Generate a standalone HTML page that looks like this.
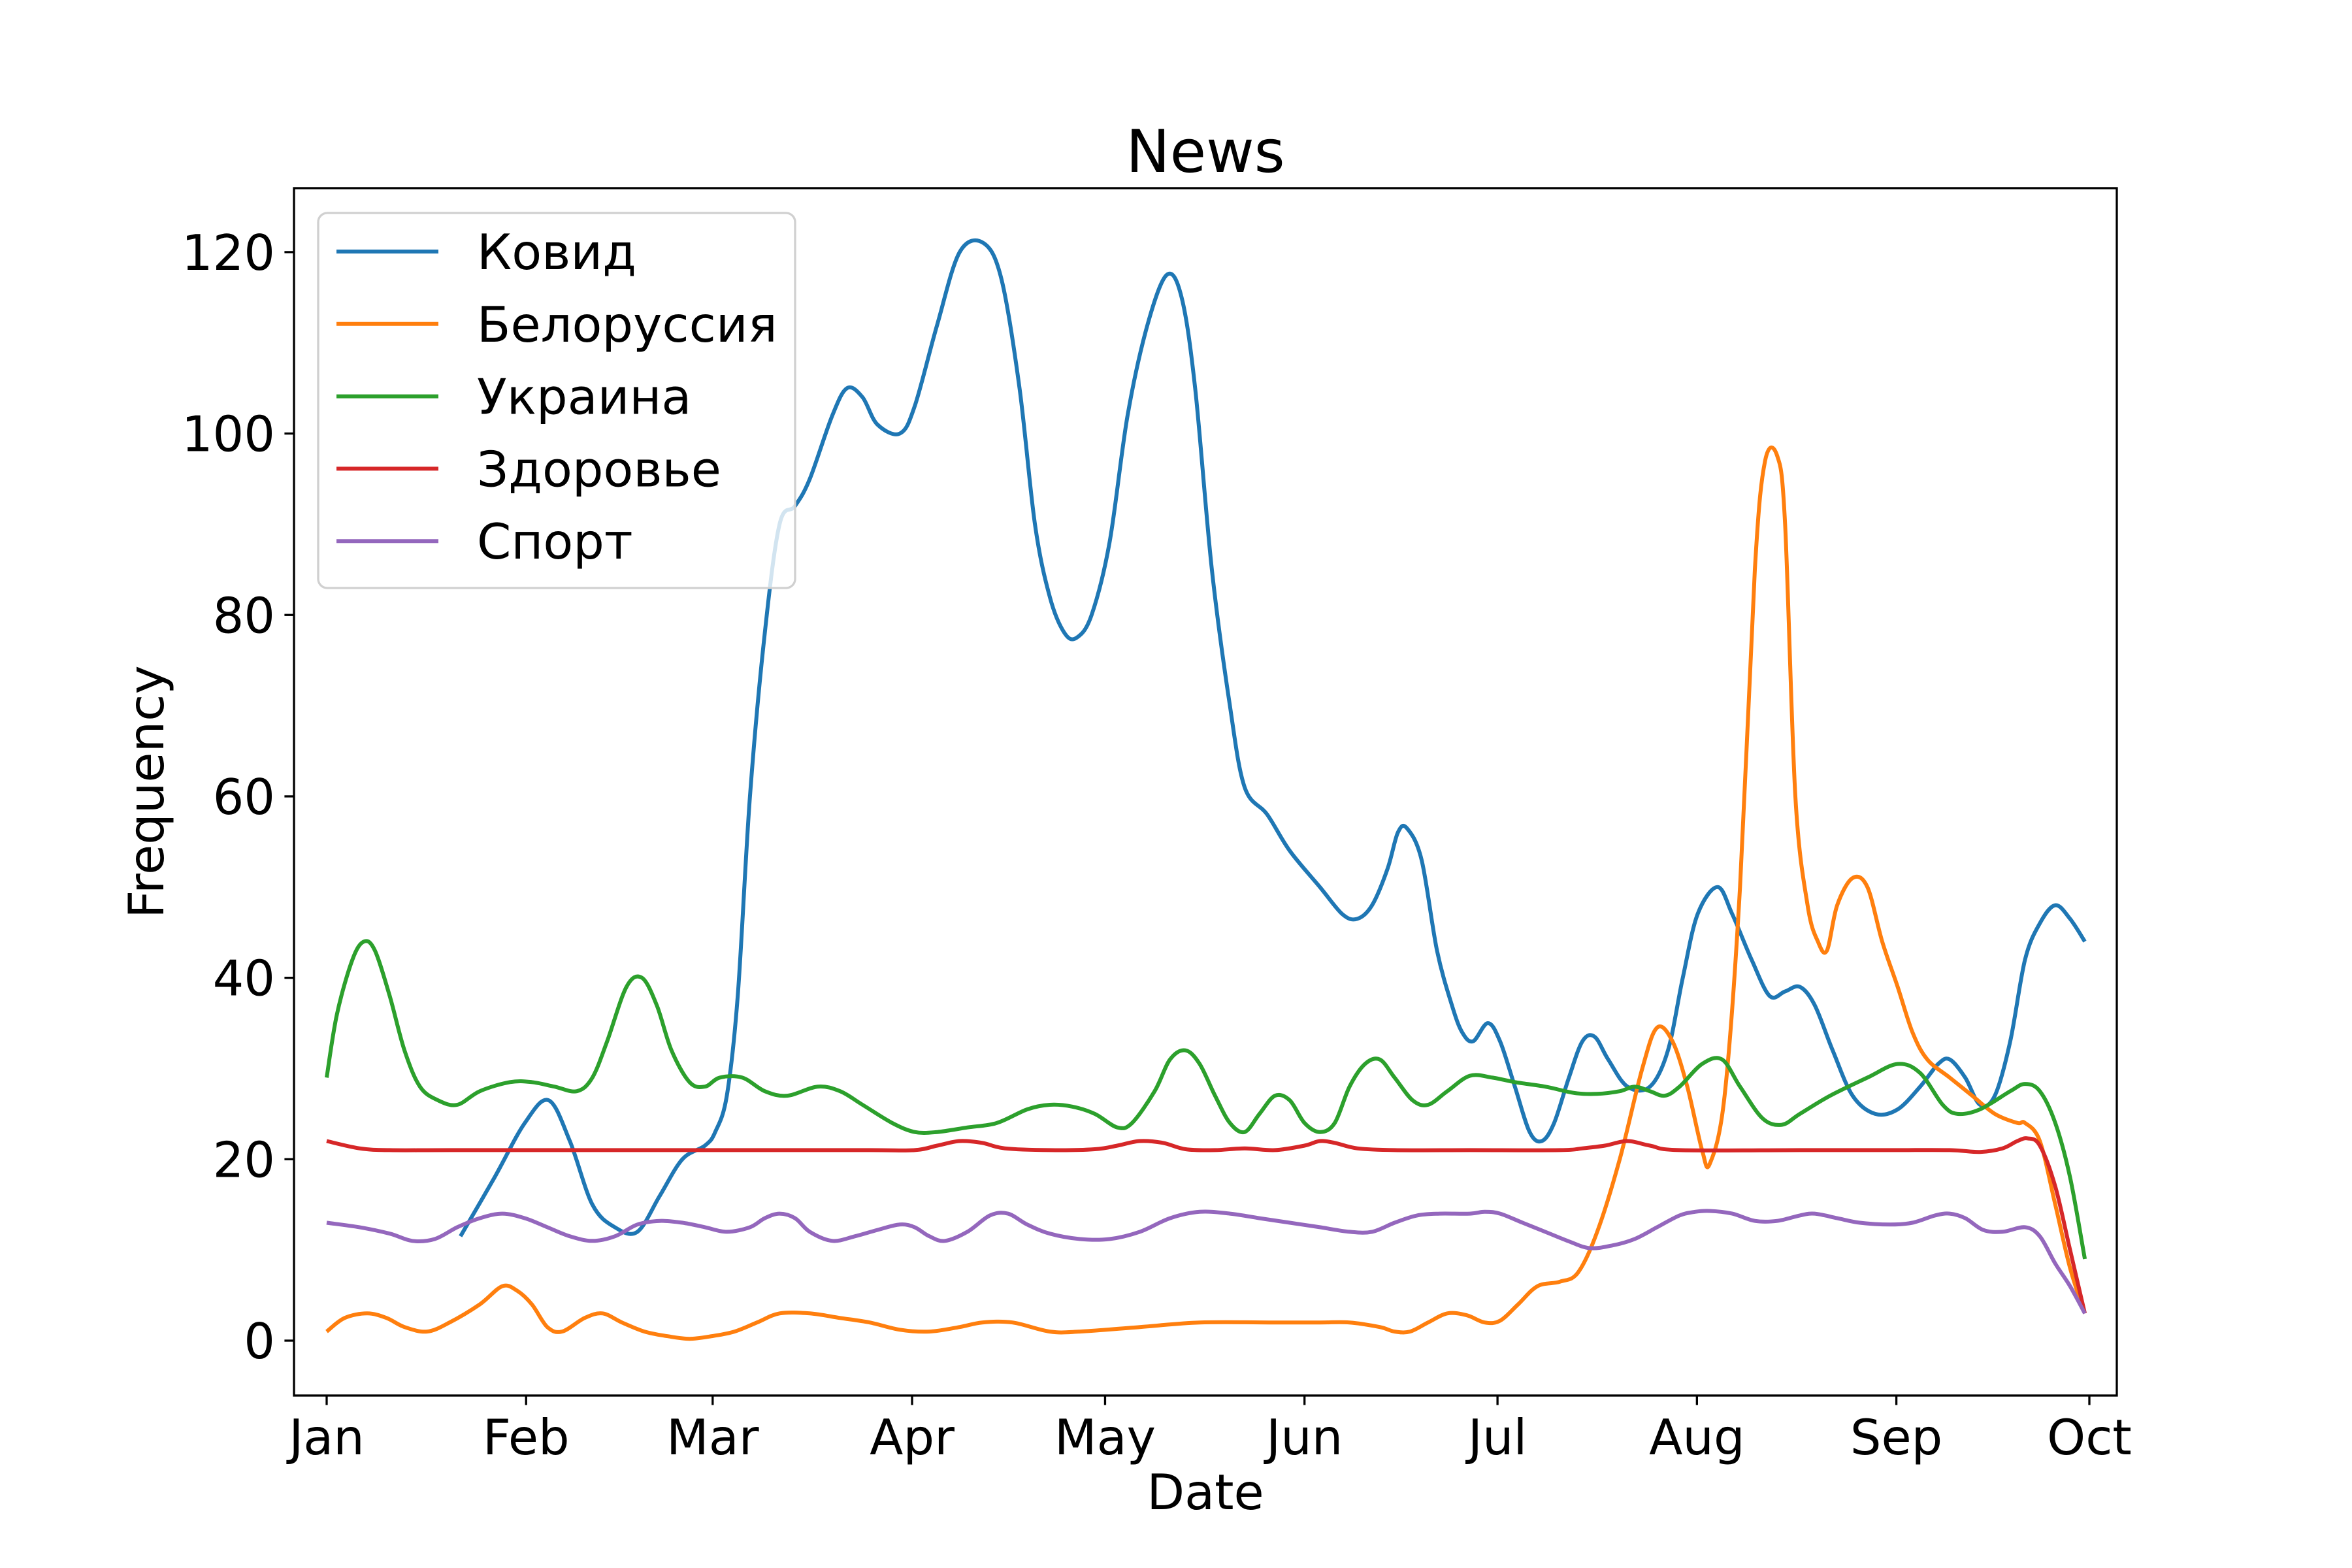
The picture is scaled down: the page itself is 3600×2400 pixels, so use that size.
<!DOCTYPE html>
<html><head><meta charset="utf-8"><style>
html,body{margin:0;padding:0;background:#fff;}
svg{display:block;}
text{font-family:"DejaVu Sans","Liberation Sans",sans-serif;fill:#000;}
</style></head><body>
<svg id="chart" width="3600" height="2400" viewBox="0 0 3600 2400" xmlns="http://www.w3.org/2000/svg">
<rect x="0" y="0" width="3600" height="2400" fill="#fff"/>
<text x="1845" y="263" font-size="90" text-anchor="middle">News</text>
<g id="plot"></g>
<g id="axes"></g>
<text x="1845" y="2310" font-size="75" text-anchor="middle">Date</text>
<text transform="translate(250,1212) rotate(-90)" font-size="75" text-anchor="middle">Frequency</text>
<g id="legend"></g>
</svg>
<script>
const seriesNames = ["Ковид","Белоруссия","Украина","Здоровье","Спорт"];
const seriesColors = ["#1f77b4","#ff7f0e","#2ca02c","#d62728","#9467bd"];
const xTickLabels = ["Jan","Feb","Mar","Apr","May","Jun","Jul","Aug","Sep","Oct"];
const xTickDays = [0,31,60,91,121,152,182,213,244,274];
const yTickValues = [0,20,40,60,80,100,120];

const covidDays = [20.8,26.1,30.8,34.5,37.8,41.3,44.8,48.3,51.8,55.3,58.8,60.4,62.2,63.9,65.8,68.1,70.4,72.8,75.1,78.6,80.9,83.3,85.6,89.1,91.4,94.9,98.4,102.1,104.9,107.7,110.1,112.4,114.7,116.6,118.9,121.7,124.5,127.6,130.6,132.9,135.0,137.6,140.4,142.7,146.2,149.7,154.4,157.9,160.2,162.5,164.9,166.5,167.9,170.2,172.6,174.9,176.5,178.2,180.5,182.4,184.7,187.0,188.9,190.8,193.1,195.2,197.1,199.2,202.2,205.7,208.5,210.8,213.1,216.2,218.5,221.5,224.3,226.7,229.0,231.3,234.1,237.2,240.7,244.2,247.7,250.5,252.3,254.7,257.0,259.3,261.7,264.0,266.3,268.7,271.0,273.3];
const covidValues = [11.5,18,24,26.5,22,15,12.5,12,16,20,21.5,23,27,38,60,78,90,92,95,102,105,104,101,100,103,112,120,121,117,105,90,82,78,77.5,80,88,102,112,117.5,115,105,85,70,61,58,54,50,47,46.5,48,52,56,56.5,53,43,37,34,33,35,33,28,23,22,24,29,33,33.5,31,28,28,32,40,47,50,47,42,38,38.5,39,37,32,27,25,25.5,28,30.5,31,29,26,27,33,42,46,48,46.5,44];

const belDays = [0,2.8,6.3,9.3,12.1,15.6,19.1,23.8,27.3,29.6,31.9,34.3,36.6,40.1,42.9,45.9,49.4,52.9,56.4,59.9,63.4,66.9,70.4,75.1,79.8,84.4,89.1,93.7,98.4,101.9,106.6,112.4,117.1,126.4,135.7,147.4,154.4,159.0,163.7,166.0,168.4,171.2,174.2,177.2,180.0,182.4,185.2,188.2,191.7,194.5,197.5,201.0,204.5,206.8,209.2,211.5,213.8,215.0,217.3,219.7,222.0,223.6,225.5,226.7,228.3,230.2,231.8,233.2,234.8,237.2,239.5,241.8,244.2,246.5,248.8,252.3,255.8,259.3,262.8,264.0,266.3,268.7,271.0,273.3];
const belValues = [1,2.5,3,2.5,1.5,1,2,4,6,5.5,4,1.5,1,2.5,3,2,1,0.5,0.2,0.5,1,2,3,3,2.5,2,1.2,1,1.5,2,2,1,1,1.5,2,2,2,2,1.5,1,1,2,3,2.8,2,2.2,4,6,6.5,7.5,12,20,30,34.5,33,28,21,19.5,27,50,85,97,97.5,90,60,48,44,43,48,51,50,44,39,34,31,29,27,25,24,24,22,15,8,3];

const ukrDays = [0,1.6,4.0,5.8,7.5,9.8,12.1,14.5,17.3,20.3,23.8,28.5,31.9,35.4,38.9,41.3,43.6,46.6,49.0,51.3,53.6,56.4,58.8,61.1,64.6,68.1,71.6,76.3,79.8,83.3,87.9,91.4,94.9,99.6,104.2,108.9,112.4,115.9,119.4,122.9,125.2,128.7,131.1,133.5,135.7,138.1,140.4,142.7,145.0,147.4,149.7,152.0,154.4,156.7,159.0,161.4,163.7,166.0,168.8,171.2,174.2,177.7,181.2,184.7,189.4,194.0,197.5,201.0,203.3,205.7,208.0,210.3,213.8,216.9,219.7,223.2,226.2,229.0,233.7,239.5,244.2,247.7,251.2,253.5,257.0,261.7,264.0,266.3,268.7,271.0,273.3];
const ukrValues = [29,36,42,44,43,38,32,28,26.5,26,27.5,28.5,28.5,28,27.5,29,33,39,40,37,32,28.5,28,29,29,27.5,27,28,27.5,26,24,23,23,23.5,24,25.5,26,25.8,25,23.5,24,27.5,31,32,30.5,27,24,23,25,27,26.5,24,23,24,28,30.5,31,29,26.5,26,27.5,29.2,29,28.5,28,27.3,27.2,27.5,28,27.5,27,28,30.5,31,28,24.5,23.8,25,27,29,30.5,29.5,26,25,25.5,27.5,28.3,27.5,24,18,9];

const zdrDays = [0,5.1,9.8,19.1,42.4,65.8,84.4,91.4,94.9,98.4,101.9,105.4,112.4,119.4,122.9,126.4,130.0,133.5,138.1,142.7,147.4,152.0,154.4,156.7,160.2,166.0,177.7,191.7,195.2,198.7,202.2,205.7,210.3,229.0,243.0,252.3,257.0,260.5,262.8,264.4,266.3,268.7,271.0,273.3];
const zdrValues = [22,21.2,21,21,21,21,21,21,21.5,22,21.8,21.2,21,21.1,21.5,22,21.8,21.1,21,21.2,21,21.5,22,21.8,21.2,21,21,21,21.2,21.5,22,21.5,21,21,21,21,20.8,21.2,22,22.3,21.5,17,10,3];

const sportDays = [0,5.1,9.8,13.3,16.8,20.3,23.8,27.3,30.8,34.3,37.8,41.3,44.8,48.3,51.8,55.3,58.8,62.2,65.8,68.1,70.4,72.8,75.1,78.6,82.1,85.6,89.1,91.4,93.7,96.1,99.6,103.1,105.9,108.9,112.4,117.1,121.7,126.4,131.1,135.7,140.4,145.0,149.7,154.4,159.0,162.5,166.0,169.5,173.0,177.7,180.0,182.4,185.9,189.4,192.9,196.3,199.9,203.3,206.8,210.3,212.7,215.0,218.5,222.0,225.5,229.0,231.3,234.8,238.3,243.0,246.5,250.0,252.3,254.7,257.5,260.5,264.0,266.3,268.7,271.0,273.3];
const sportValues = [13,12.5,11.8,11,11.2,12.5,13.5,14,13.5,12.5,11.5,11,11.5,12.8,13.2,13,12.5,12,12.5,13.5,14,13.5,12,11,11.5,12.2,12.8,12.5,11.5,11,12,13.8,14,12.8,11.8,11.2,11.2,12,13.5,14.2,14,13.5,13,12.5,12,12,13,13.8,14,14,14.2,14,13,12,11,10.2,10.5,11.2,12.5,13.8,14.2,14.3,14,13.2,13.2,13.8,14,13.5,13,12.8,13,13.8,14,13.5,12.2,12,12.5,11.5,8.5,6,3];

const allDays = [covidDays,belDays,ukrDays,zdrDays,sportDays];
const allValues = [covidValues,belValues,ukrValues,zdrValues,sportValues];

const NS = "http://www.w3.org/2000/svg";
const AX = {left:450,right:3240,top:288,bottom:2136};
const yMin = -6.05, yMax = 127.05;
function xScale(d){ return 500 + d*(2698/274); }
function yScale(v){ return AX.bottom - (v - yMin)/(yMax - yMin)*(AX.bottom-AX.top); }
function mk(tag, attrs){ const e=document.createElementNS(NS,tag); for(const k in attrs) e.setAttribute(k,attrs[k]); return e; }

function smoothPath(pts){
  let d = "M"+pts[0][0].toFixed(1)+","+pts[0][1].toFixed(1);
  for(let i=0;i<pts.length-1;i++){
    const p0=pts[Math.max(0,i-1)], p1=pts[i], p2=pts[i+1], p3=pts[Math.min(pts.length-1,i+2)];
    const c1x=p1[0]+(p2[0]-p0[0])/6, c1y=p1[1]+(p2[1]-p0[1])/6;
    const c2x=p2[0]-(p3[0]-p1[0])/6, c2y=p2[1]-(p3[1]-p1[1])/6;
    d += " C"+c1x.toFixed(1)+","+c1y.toFixed(1)+" "+c2x.toFixed(1)+","+c2y.toFixed(1)+" "+p2[0].toFixed(1)+","+p2[1].toFixed(1);
  }
  return d;
}

const plot = document.getElementById("plot");
const clip = mk("clipPath",{id:"clipax"});
clip.appendChild(mk("rect",{x:AX.left,y:AX.top,width:AX.right-AX.left,height:AX.bottom-AX.top}));
document.getElementById("chart").insertBefore(clip, plot);
plot.setAttribute("clip-path","url(#clipax)");
for(let s=0;s<seriesNames.length;s++){
  const pts = allDays[s].map((d,i)=>[xScale(d), yScale(allValues[s][i])]);
  const p = mk("path",{d:smoothPath(pts),fill:"none",stroke:seriesColors[s],"stroke-width":6,"stroke-linejoin":"round","stroke-linecap":"butt"});
  
  
  plot.appendChild(p);
}

const axes = document.getElementById("axes");
const frame = mk("rect",{x:AX.left,y:AX.top,width:AX.right-AX.left,height:AX.bottom-AX.top,fill:"none",stroke:"#000","stroke-width":3.3});


axes.appendChild(frame);
xTickDays.forEach((d,i)=>{
  const x=xScale(d);
  const t=mk("line",{x1:x,x2:x,y1:AX.bottom,y2:AX.bottom+14.6,stroke:"#000","stroke-width":3.3});
  
  
  axes.appendChild(t);
  const l=mk("text",{x:x,y:2226,"font-size":75,"text-anchor":"middle"});
  l.textContent=xTickLabels[i];
  
  
  axes.appendChild(l);
});
yTickValues.forEach(v=>{
  const y=yScale(v);
  const t=mk("line",{x1:AX.left-14.6,x2:AX.left,y1:y,y2:y,stroke:"#000","stroke-width":3.3});
  
  
  axes.appendChild(t);
  const l=mk("text",{x:421,y:y+27,"font-size":75,"text-anchor":"end"});
  l.textContent=String(v);
  
  
  axes.appendChild(l);
});

const legend = document.getElementById("legend");
const box = mk("rect",{x:487,y:326,width:730,height:574,rx:14,fill:"#fff","fill-opacity":0.8,stroke:"#d0d0d0","stroke-width":3.3});


legend.appendChild(box);
seriesNames.forEach((n,i)=>{
  const y=385+i*110.8;
  const g=mk("g",{});
  
  
  const ln=mk("line",{x1:515,x2:671,y1:y,y2:y,stroke:seriesColors[i],"stroke-width":6});
  
  
  const tx=mk("text",{x:730,y:y+27,"font-size":75});
  tx.textContent=n;
  
  
  g.appendChild(ln); g.appendChild(tx);
  legend.appendChild(g);
});
</script>
</body></html>
